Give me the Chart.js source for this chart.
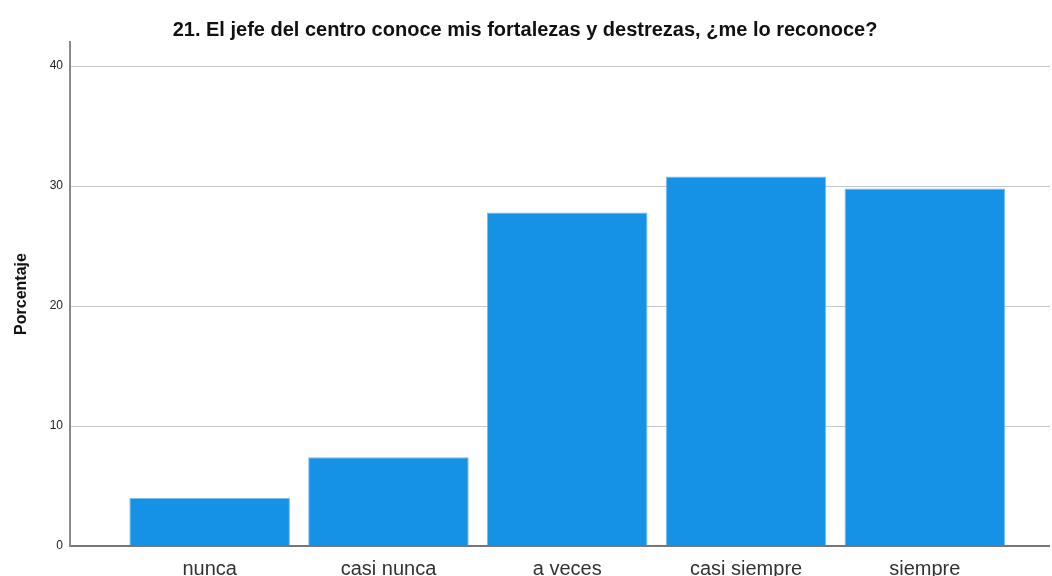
<!DOCTYPE html>
<html>
<head>
<meta charset="utf-8">
<script src="https://cdn.jsdelivr.net/npm/chart.js@4"></script>
<style>
  html, body { margin: 0; padding: 0; background: #fff; }
  #wrap { width: 1052px; height: 576px; }
</style>
</head>
<body>
<div id="wrap"><canvas id="myChart"></canvas></div>
<script>
const categories = ['nunca', 'casi nunca', 'a veces', 'casi siempre', 'siempre'];
const porcentaje = [4.0, 7.4, 27.8, 30.8, 29.8];
const yTicks = [0, 10, 20, 30, 40];

const ctx = document.getElementById('myChart');

let chart = new Chart(ctx, {
    type: 'bar',
    data: {
        datasets: [{
            label: 'Porcentaje',
            data: porcentaje.map((v, i) => ({ x: i, y: v })),
            backgroundColor: '#1591e6',
            borderColor: '#7fbdee',
            borderWidth: 1,
            categoryPercentage: 1,
            barPercentage: 0.898
        }]
    },
    options: {
        responsive: true,
        maintainAspectRatio: false,
        animation: false,
        layout: { padding: { top: 0, right: 2, left: 0, bottom: 0 } },
        plugins: {
            legend: { display: false },
            tooltip: { enabled: false },
            title: {
                display: true,
                text: '21. El jefe del centro conoce mis fortalezas y destrezas, ¿me lo reconoce?',
                color: '#111',
                font: { family: 'Liberation Sans', size: 20, weight: 'bold' },
                padding: { top: 18, bottom: 0 }
            }
        },
        scales: {
            x: {
                type: 'linear',
                offset: false,
                min: -0.781,
                max: 4.70,
                grid: { display: false },
                border: { display: false },
                afterBuildTicks: (scale) => {
                    scale.ticks = categories.map((c, i) => ({ value: i }));
                },
                afterFit: (scale) => { scale.height = 30; },
                ticks: {
                    autoSkip: false,
                    maxRotation: 0,
                    padding: 3,
                    color: '#333',
                    font: { family: 'Liberation Sans', size: 20 },
                    callback: (v) => categories[v]
                }
            },
            y: {
                min: 0,
                max: 42,
                afterBuildTicks: (scale) => {
                    scale.ticks = yTicks.map(v => ({ value: v }));
                },
                afterFit: (scale) => { scale.width = 70; },
                border: { display: true, color: '#8a8a8a', width: 2 },
                grid: {
                    drawTicks: false,
                    color: (c) => c.tick && c.tick.value === 0 ? '#777' : '#c8c8c8',
                    lineWidth: (c) => c.tick && c.tick.value === 0 ? 2 : 1
                },
                ticks: {
                    padding: 7,
                    color: '#222',
                    font: { family: 'Liberation Sans', size: 12 }
                },
                title: {
                    display: true,
                    text: 'Porcentaje',
                    color: '#111',
                    font: { family: 'Liberation Sans', size: 16, weight: 'bold' },
                    padding: { top: 12, bottom: 0 }
                }
            }
        }
    }
});
</script>
</body>
</html>
